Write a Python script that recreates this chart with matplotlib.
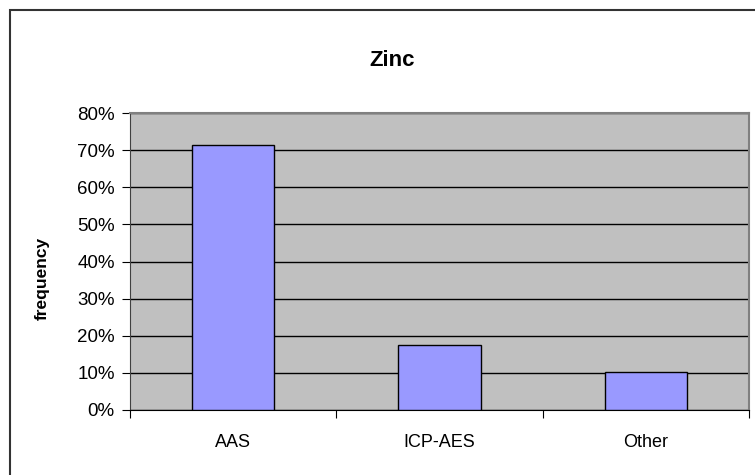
import matplotlib.pyplot as plt
from matplotlib.patches import Rectangle
from matplotlib.ticker import PercentFormatter

plt.rcParams['font.family'] = ['Liberation Sans', 'DejaVu Sans']

categories = ['AAS', 'ICP-AES', 'Other']
frequency = [71.4, 17.6, 10.3]
y_ticks = [0, 10, 20, 30, 40, 50, 60, 70, 80]

fig = plt.figure(figsize=(7.55, 4.75), dpi=100)
# outer chart border (runs off the right and bottom edges)
fig.patches.append(Rectangle((10 / 755, -0.05), 1.0, 1 - 10 / 475 + 0.05,
                             transform=fig.transFigure, fill=False,
                             edgecolor='#333333', linewidth=1.5))

ax = fig.add_axes([130 / 755, 1 - 410 / 475, 619 / 755, 297 / 475])
ax.set_facecolor('#C0C0C0')

x = range(len(categories))
ax.bar(x, frequency, width=0.4, color='#9999FF', edgecolor='black',
       linewidth=1, zorder=3)

ax.set_xlim(-0.5, len(categories) - 0.5)
ax.set_ylim(0, 80)
ax.set_yticks(y_ticks)
ax.yaxis.set_major_formatter(PercentFormatter(decimals=0))
ax.grid(axis='y', color='black', linewidth=1, zorder=0)
ax.set_axisbelow(True)

# category labels centred, tick marks between categories
ax.set_xticks([-0.5, 0.5, 1.5, 2.5])
ax.set_xticklabels([])
ax.set_xticks(list(x), minor=True)
ax.set_xticklabels(categories, minor=True)
ax.tick_params(axis='x', which='minor', length=0, pad=17, labelsize=13)
ax.tick_params(axis='x', which='major', length=6, direction='out')
ax.tick_params(axis='y', length=6, direction='out', labelsize=13.5, pad=5)

for side in ['top', 'right']:
    ax.spines[side].set_color('#808080')
    ax.spines[side].set_linewidth(1.5)
ax.spines['left'].set_color('#404040')
ax.spines['bottom'].set_color('black')

fig.text(42 / 755, 1 - 278 / 475, 'frequency', rotation=90, ha='center',
         va='center', fontsize=12.5, fontweight='bold')
fig.text(392 / 755, 1 - 60 / 475, 'Zinc', ha='center', va='center',
         fontsize=16, fontweight='bold')

fig.savefig('out.png', dpi=100)
